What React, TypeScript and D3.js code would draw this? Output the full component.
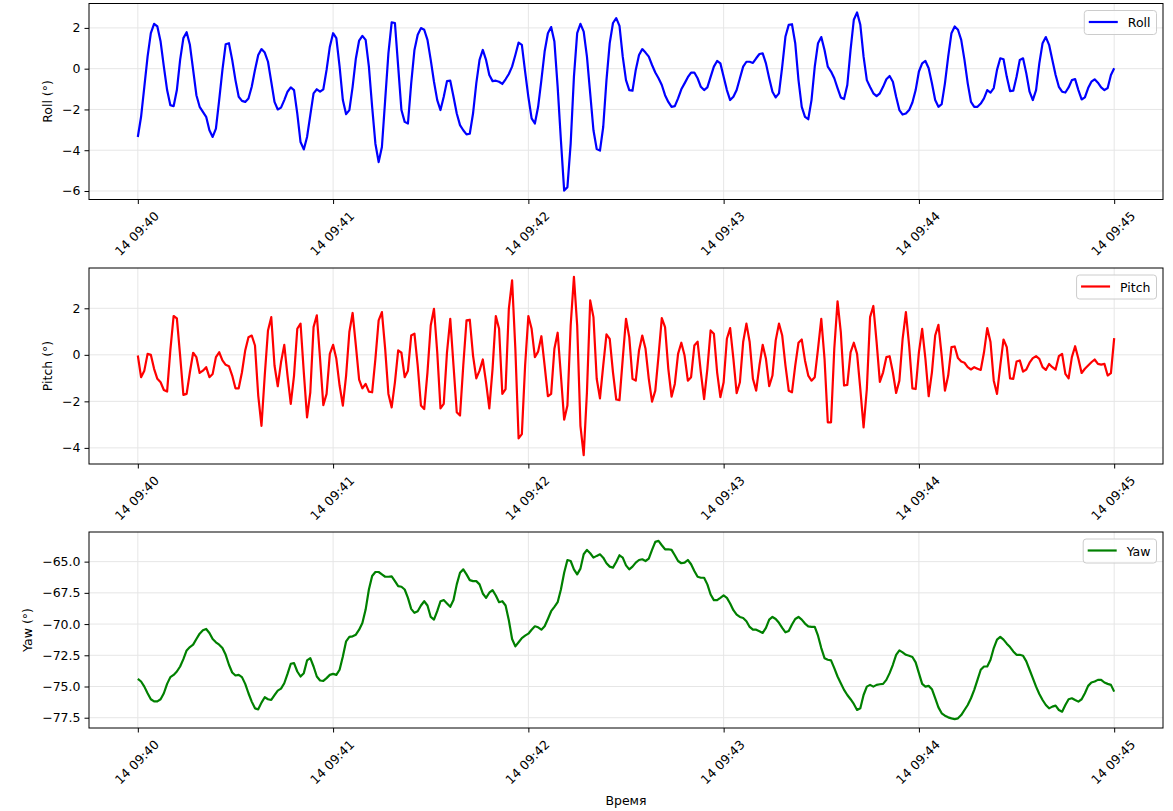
import React, { useEffect, useRef } from "react";
import * as d3 from "d3";

const WIDTH = 1173;
const HEIGHT = 811;

// samples start at 14th, 09:40:00, one per second
const START = new Date(2024, 0, 14, 9, 40, 0);
const STEP_SECONDS = 1;

const roll = [
  -3.35, -2.36, -0.89, 0.59, 1.74, 2.2, 2.07, 1.33, 0.1, -1.05,
  -1.79, -1.84, -1.05, 0.43, 1.5, 1.79, 1.17, -0.06, -1.3, -1.87,
  -2.12, -2.36, -3.02, -3.35, -2.94, -1.54, -0.06, 1.2, 1.25, 0.43,
  -0.56, -1.38, -1.58, -1.63, -1.46, -0.89, -0.06, 0.67, 0.96, 0.79,
  0.34, -0.64, -1.63, -2.0, -1.91, -1.54, -1.13, -0.92, -1.05, -2.2,
  -3.6, -3.96, -3.35, -2.28, -1.21, -1.01, -1.13, -1.01, -0.06, 1.08,
  1.74, 1.5, 0.1, -1.54, -2.23, -2.03, -0.89, 0.5, 1.38, 1.61,
  1.41, 0.1, -1.87, -3.68, -4.58, -3.84, -1.54, 0.75, 2.27, 2.24,
  0.1, -2.03, -2.61, -2.69, -0.72, 0.92, 1.66, 1.99, 1.91, 1.41,
  0.43, -0.64, -1.54, -2.03, -1.38, -0.61, -0.59, -1.38, -2.2, -2.77,
  -3.02, -3.22, -3.19, -2.2, -0.72, 0.43, 0.92, 0.43, -0.31, -0.61,
  -0.59, -0.64, -0.75, -0.52, -0.26, 0.1, 0.67, 1.28, 1.17, -0.14,
  -1.38, -2.44, -2.69, -1.87, -0.56, 0.84, 1.74, 2.04, 1.33, -0.89,
  -3.51, -5.98, -5.81, -3.68, -0.4, 1.74, 2.2, 1.82, 0.59, -1.21,
  -3.02, -3.94, -4.02, -2.86, -0.56, 1.25, 2.24, 2.48, 2.1, 0.59,
  -0.56, -1.05, -1.08, -0.06, 0.67, 0.96, 0.79, 0.59, 0.18, -0.19,
  -0.47, -0.8, -1.3, -1.63, -1.87, -1.84, -1.46, -1.01, -0.72, -0.42,
  -0.19, -0.19, -0.47, -0.89, -1.05, -0.92, -0.4, 0.1, 0.38, 0.26,
  -0.4, -1.05, -1.54, -1.38, -1.05, -0.47, 0.1, 0.34, 0.34, 0.28,
  0.51, 0.72, 0.75, 0.26, -0.47, -1.13, -1.41, -1.21, 0.1, 1.58,
  2.15, 2.18, 1.25, -0.56, -1.87, -2.36, -2.48, -1.54, 0.1, 1.25,
  1.55, 0.92, 0.1, -0.14, -0.47, -0.95, -1.41, -1.49, -0.8, 0.92,
  2.4, 2.76, 2.15, 0.59, -0.56, -0.9, -1.21, -1.35, -1.21, -0.89,
  -0.52, -0.36, -0.64, -1.38, -2.03, -2.25, -2.2, -2.03, -1.66, -1.05,
  -0.14, 0.26, 0.38, 0.02, -0.72, -1.54, -1.87, -1.74, -0.72, 0.59,
  1.74, 2.07, 1.91, 1.41, 0.43, -0.72, -1.63, -1.87, -1.87, -1.71,
  -1.46, -1.05, -1.17, -0.95, -0.06, 0.51, 0.46, -0.4, -1.1, -1.08,
  -0.4, 0.43, 0.51, -0.23, -1.13, -1.54, -1.05, 0.26, 1.25, 1.55,
  1.17, 0.43, -0.31, -0.89, -1.13, -1.17, -0.92, -0.56, -0.51, -1.05,
  -1.51, -1.41, -0.95, -0.64, -0.52, -0.69, -0.92, -1.05, -0.95, -0.31,
  0.02,
];

const pitch = [
  -0.03, -0.96, -0.68, 0.04, 0.0, -0.6, -1.03, -1.18, -1.51, -1.58,
  0.2, 1.67, 1.57, -0.03, -1.72, -1.68, -0.75, 0.09, -0.1, -0.78,
  -0.68, -0.53, -0.96, -0.82, -0.1, 0.11, -0.24, -0.43, -0.49, -0.89,
  -1.44, -1.44, -0.75, 0.19, 0.76, 0.83, 0.4, -1.75, -3.05, -0.89,
  1.05, 1.62, -0.46, -1.35, -0.32, 0.43, -0.89, -2.11, -0.89, 1.12,
  1.34, -0.75, -2.69, -1.61, 1.19, 1.7, -0.17, -2.16, -1.68, 0.04,
  0.43, -0.17, -1.32, -2.18, -0.89, 0.98, 1.8, 0.4, -1.07, -1.44,
  -1.25, -1.58, -1.61, -0.17, 1.48, 1.84, 0.26, -1.68, -2.26, -1.18,
  0.19, 0.09, -0.96, -0.68, 0.83, 0.91, -0.46, -2.18, -2.33, -0.75,
  1.26, 1.98, 0.11, -2.3, -2.11, 0.11, 1.55, -0.46, -2.47, -2.61,
  -0.46, 1.48, 1.51, -0.03, -1.01, -0.68, -0.2, -1.18, -2.3, -0.6,
  1.67, 1.12, -1.68, -1.47, 1.98, 3.2, 0.26, -3.59, -3.41, -0.46,
  1.67, 1.12, -0.1, 0.14, 0.8, -0.46, -1.78, -1.68, 0.26, 0.95,
  -0.89, -2.79, -2.18, 1.26, 3.35, 1.26, -3.05, -4.31, -1.61, 2.34,
  1.62, -1.03, -1.87, -0.46, 0.88, 0.69, -0.75, -1.92, -1.95, -0.17,
  1.55, 0.76, -1.03, -1.11, 0.19, 0.83, 0.26, -1.03, -2.01, -1.54,
  -0.03, 1.58, 1.19, -0.6, -1.8, -1.25, 0.04, 0.52, -0.03, -1.11,
  -0.96, 0.4, 0.57, -0.75, -1.9, -0.6, 1.05, 0.91, -0.75, -1.82,
  -1.18, 0.69, 1.15, -0.17, -1.65, -1.18, 0.55, 1.34, 0.55, -1.03,
  -1.54, -0.46, 0.43, -0.17, -1.35, -0.89, 0.62, 1.34, 0.83, -0.46,
  -1.54, -1.61, -0.46, 0.52, 0.66, -0.24, -0.89, -1.11, -0.96, 0.26,
  1.55, -0.17, -2.9, -2.9, 0.26, 2.3, 0.98, -1.32, -1.29, 0.11,
  0.52, 0.04, -1.47, -3.12, -1.47, 1.62, 2.1, 0.55, -1.16, -0.75,
  -0.1, -0.06, -0.75, -1.64, -1.11, 0.69, 1.84, 0.4, -1.44, -1.47,
  0.11, 1.12, -0.17, -1.78, -0.75, 0.83, 1.29, -0.03, -1.54, -0.89,
  0.33, 0.36, -0.14, -0.29, -0.34, -0.53, -0.63, -0.53, -0.6, -0.65,
  0.11, 1.15, 0.55, -1.11, -1.68, -0.46, 0.66, 0.33, -1.01, -1.03,
  -0.29, -0.24, -0.72, -0.63, -0.34, -0.14, -0.06, -0.17, -0.53, -0.65,
  -0.39, -0.53, -0.63, -0.06, 0.04, -0.82, -1.01, -0.1, 0.37, -0.17,
  -0.78, -0.6, -0.46, -0.32, -0.2, -0.39, -0.42, -0.39, -0.89, -0.79,
  0.72,
];

const yaw = [
  -74.39, -74.6, -75.01, -75.54, -76.02, -76.19, -76.19, -76.02, -75.54, -74.79,
  -74.25, -74.07, -73.8, -73.4, -72.81, -72.11, -71.84, -71.65, -71.2, -70.77,
  -70.5, -70.39, -70.71, -71.2, -71.46, -71.65, -71.92, -72.46, -73.26, -73.88,
  -74.12, -74.07, -74.25, -74.79, -75.54, -76.21, -76.75, -76.83, -76.29, -75.86,
  -76.02, -76.08, -75.7, -75.33, -75.17, -74.74, -73.99, -73.18, -73.13, -73.8,
  -74.2, -73.93, -72.91, -72.73, -73.4, -74.2, -74.52, -74.55, -74.33, -74.07,
  -73.99, -74.07, -73.66, -72.59, -71.38, -71.03, -70.98, -70.85, -70.45, -69.91,
  -68.84, -67.23, -66.15, -65.83, -65.83, -66.02, -66.21, -66.21, -66.18, -66.56,
  -66.96, -67.01, -67.23, -67.9, -68.78, -69.1, -68.97, -68.51, -68.17, -68.51,
  -69.43, -69.64, -68.97, -68.17, -68.08, -68.35, -68.62, -68.08, -66.82, -65.89,
  -65.62, -66.02, -66.48, -66.56, -66.56, -66.82, -67.55, -67.9, -67.49, -67.28,
  -67.71, -68.25, -68.17, -68.51, -69.69, -71.2, -71.79, -71.46, -71.12, -70.93,
  -70.77, -70.45, -70.18, -70.26, -70.45, -70.18, -69.59, -68.97, -68.62, -68.25,
  -67.23, -65.89, -64.87, -64.95, -65.62, -66.02, -65.56, -64.41, -64.06, -64.33,
  -64.68, -64.54, -64.41, -64.68, -65.13, -65.4, -65.48, -65.03, -64.49, -64.68,
  -65.3, -65.62, -65.4, -65.08, -64.87, -64.81, -64.95, -64.76, -64.06, -63.42,
  -63.34, -63.69, -64.01, -64.01, -64.06, -64.49, -64.95, -65.13, -65.08, -64.87,
  -65.21, -65.75, -66.21, -66.29, -66.29, -66.82, -67.63, -68.08, -68.08, -67.9,
  -67.71, -67.9, -68.35, -68.89, -69.24, -69.43, -69.51, -69.77, -70.23, -70.45,
  -70.45, -70.58, -70.71, -70.31, -69.64, -69.43, -69.59, -69.9, -70.3, -70.66,
  -70.55, -70.04, -69.59, -69.43, -69.64, -69.96, -70.18, -70.23, -70.23, -70.93,
  -71.92, -72.73, -72.86, -72.91, -73.53, -74.2, -74.74, -75.27, -75.68, -76.02,
  -76.4, -76.88, -76.75, -75.68, -75.01, -74.87, -75.01, -74.87, -74.82, -74.79,
  -74.47, -73.93, -73.26, -72.46, -72.11, -72.27, -72.46, -72.54, -72.64, -73.07,
  -73.93, -74.79, -75.01, -74.95, -75.22, -75.94, -76.67, -77.15, -77.34, -77.47,
  -77.55, -77.61, -77.55, -77.29, -76.88, -76.48, -75.94, -75.27, -74.47, -73.66,
  -73.4, -73.4, -72.86, -71.92, -71.25, -71.03, -71.25, -71.57, -71.84, -72.19,
  -72.46, -72.46, -72.54, -72.99, -73.66, -74.33, -75.01, -75.6, -76.08, -76.48,
  -76.75, -76.61, -76.53, -76.88, -77.02, -76.48, -76.02, -75.94, -76.08, -76.21,
  -76.02, -75.54, -74.95, -74.68, -74.6, -74.47, -74.47, -74.68, -74.79, -74.87,
  -75.41,
];

const rollTicks = [-6, -4, -2, 0, 2];
const pitchTicks = [-4, -2, 0, 2];
const yawTicks = [-77.5, -75, -72.5, -70, -67.5, -65];

const xLabel = "Время";

const panels = [
  { name: "Roll", yLabel: "Roll (°)", values: roll, ticks: rollTicks, fmt: d3.format("d"), color: "#0000ff" },
  { name: "Pitch", yLabel: "Pitch (°)", values: pitch, ticks: pitchTicks, fmt: d3.format("d"), color: "#ff0000" },
  { name: "Yaw", yLabel: "Yaw (°)", values: yaw, ticks: yawTicks, fmt: d3.format(".1f"), color: "#008000" },
];

// layout
const LEFT = 89;
const RIGHT = 1163;
const TOPS = [3.5, 268, 532];
const PANEL_H = 196;
const FONT = 12.5;
const GRID = "#e6e6e6";

function AttitudeChart() {
  const svgRef = useRef<SVGSVGElement>(null);

  useEffect(() => {
    const svg = d3.select(svgRef.current);
    svg.selectAll("*").remove();

    const times = roll.map((_, i) => new Date(START.getTime() + i * STEP_SECONDS * 1000));
    const t0 = times[0].getTime();
    const t1 = times[times.length - 1].getTime();
    const margin = (t1 - t0) * 0.05;

    const x = d3.scaleTime()
      .domain([new Date(t0 - margin), new Date(t1 + margin)])
      .range([LEFT, RIGHT]);
    const xTicks = x.ticks(d3.timeMinute.every(1));
    const timeFmt = d3.timeFormat("%d %H:%M");

    panels.forEach((p, idx) => {
      const g = svg.append("g").attr("transform", `translate(0,${TOPS[idx]})`);

      const [lo, hi] = d3.extent(p.values) as [number, number];
      const pad = (hi - lo) * 0.05;
      const y = d3.scaleLinear().domain([lo - pad, hi + pad]).range([PANEL_H, 0]);

      // grid
      g.append("g")
        .selectAll("line")
        .data(xTicks)
        .join("line")
        .attr("x1", d => x(d)).attr("x2", d => x(d))
        .attr("y1", 0).attr("y2", PANEL_H)
        .attr("stroke", GRID).attr("stroke-width", 1);
      g.append("g")
        .selectAll("line")
        .data(p.ticks)
        .join("line")
        .attr("x1", LEFT).attr("x2", RIGHT)
        .attr("y1", d => y(d)).attr("y2", d => y(d))
        .attr("stroke", GRID).attr("stroke-width", 1);

      // series
      const line = d3.line<number>()
        .x((_, i) => x(times[i]))
        .y(d => y(d));
      g.append("path")
        .datum(p.values)
        .attr("d", line)
        .attr("fill", "none")
        .attr("stroke", p.color)
        .attr("stroke-width", 2.2)
        .attr("stroke-linejoin", "round");

      // frame
      g.append("rect")
        .attr("x", LEFT).attr("y", 0)
        .attr("width", RIGHT - LEFT).attr("height", PANEL_H)
        .attr("fill", "none").attr("stroke", "#000").attr("stroke-width", 1);

      // y axis
      const yAxisG = g.append("g")
        .attr("transform", `translate(${LEFT},0)`)
        .call(d3.axisLeft(y).tickValues(p.ticks).tickFormat(p.fmt as any).tickSize(4.5).tickPadding(4));
      yAxisG.select(".domain").remove();
      yAxisG.attr("font-size", FONT).attr("font-family", "DejaVu Sans").attr("color", "#000");

      // x axis
      const xAxisG = g.append("g")
        .attr("transform", `translate(0,${PANEL_H})`)
        .call(d3.axisBottom(x).tickValues(xTicks).tickFormat(timeFmt as any).tickSize(4.5));
      xAxisG.select(".domain").remove();
      xAxisG.attr("font-size", FONT).attr("font-family", "DejaVu Sans").attr("color", "#000");
      xAxisG.selectAll("text")
        .attr("y", 0).attr("dy", null)
        .attr("text-anchor", "middle")
        .attr("dominant-baseline", "central")
        .attr("transform", "translate(-1.5,34) rotate(-45)");

      // y label, placed left of the widest tick label
      const widest = d3.max(yAxisG.selectAll<SVGTextElement, unknown>("text").nodes(), n => n.getBBox().width) || 0;
      g.append("text")
        .attr("transform", `translate(${LEFT - 4.5 - 4 - widest - 15},${PANEL_H / 2}) rotate(-90)`)
        .attr("text-anchor", "middle")
        .attr("dominant-baseline", "central")
        .attr("font-size", FONT)
        .attr("font-family", "DejaVu Sans")
        .text(p.yLabel);

      // legend
      const leg = g.append("g");
      const boxRight = RIGHT - 6.5;
      const boxTop = 7;
      const label = leg.append("text")
        .attr("x", boxRight - 6)
        .attr("y", boxTop + 12)
        .attr("text-anchor", "end")
        .attr("dominant-baseline", "central")
        .attr("font-size", FONT)
        .attr("font-family", "DejaVu Sans")
        .text(p.name);
      const textW = (label.node() as SVGTextElement).getComputedTextLength();
      const textStart = boxRight - 6 - textW;
      const lineEnd = textStart - 10;
      const lineStart = lineEnd - 29;
      leg.insert("rect", "text")
        .attr("x", lineStart - 4.5).attr("y", boxTop)
        .attr("width", boxRight - (lineStart - 4.5)).attr("height", 24)
        .attr("rx", 3)
        .attr("fill", "#fff").attr("fill-opacity", 0.8)
        .attr("stroke", "#cccccc").attr("stroke-width", 1);
      leg.append("line")
        .attr("x1", lineStart).attr("x2", lineEnd)
        .attr("y1", boxTop + 11.5).attr("y2", boxTop + 11.5)
        .attr("stroke", p.color).attr("stroke-width", 2.2);
    });

    svg.append("text")
      .attr("x", (LEFT + RIGHT) / 2)
      .attr("y", 800)
      .attr("text-anchor", "middle")
      .attr("dominant-baseline", "central")
      .attr("font-size", FONT)
      .attr("font-family", "DejaVu Sans")
      .text(xLabel);
  }, []);

  return (
    <svg
      ref={svgRef}
      width={WIDTH}
      height={HEIGHT}
      style={{ position: "absolute", left: 0, top: 0, background: "#fff" }}
      fontFamily="DejaVu Sans"
    />
  );
}

export default function App() {
  return <AttitudeChart />;
}
